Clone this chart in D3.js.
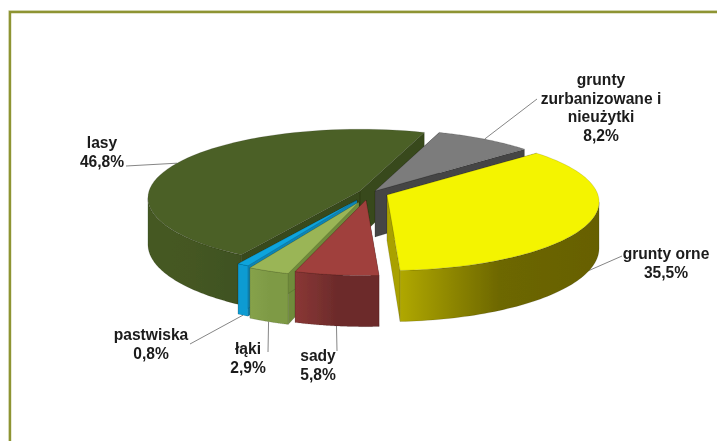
<!DOCTYPE html>
<html>
<head>
<meta charset="utf-8">
<script src="https://cdn.jsdelivr.net/npm/d3@7"></script>
<style>
html,body{margin:0;padding:0;background:#fff;overflow:hidden}
svg{display:block}
text{font-family:"Liberation Sans",Arial,sans-serif;font-weight:700;font-size:15.6px;fill:#1a1a1a}
</style>
</head>
<body>
<svg id="c" width="717" height="441"></svg>
<script>
// Data, in pie order (clockwise)
const categories = ["grunty orne","sady","łąki","pastwiska","lasy","grunty zurbanizowane i nieużytki"];
const shares = [35.5,5.8,2.9,0.8,46.8,8.2];
const valueLabels = ["35,5%","5,8%","2,9%","0,8%","46,8%","8,2%"];

// Style and layout, kept apart from the data
const topColors  = ["#f4f400","#a0403c","#9ab556","#10a4dc","#4c6128","#7b7b7b"];
const wallColors = ["#a9a100","#7f3330","#6f8b3b","#0b84b4","#37481a","#444444"];
const rimStops = [["#b0a800","#6d6700","#666000"],["#8a3735","#6c2b2b","#6c2b2b"],["#86a24b","#7e9a45","#7e9a45"],["#0e9bd2","#0e9bd2","#0e9bd2"],["#455922","#445721","#3f5120"],["#444","#444","#444"]];
const apexes = [[387,195],[366,200],[359,202],[357,200],[360,191],[375,191]];
const labelLines = [["grunty orne"],["sady"],["łąki"],["pastwiska"],["lasy"],["grunty","zurbanizowane i","nieużytki"]];
const labelAnchors = [[666,259],[318,361],[248,354],[151,340],[102,148],[601,85]];
const leaderElbows = [[622,256],[337,351],[268,352],[190,344],[126,166],[537,99]];
const drawOrder = [4,5,3,2,1,0];

const rx = 211, ry = 68, persp = 0.1, depth = 46, lineH = 18.7;
const startDeg = 49;

const svg = d3.select("#c");
const defs = svg.append("defs");
const blur = defs.append("filter").attr("id","soft").attr("x","-5%").attr("y","-5%").attr("width","110%").attr("height","110%");
blur.append("feGaussianBlur").attr("stdDeviation",0.45);

// frame
const frame = svg.append("g");
frame.append("path").attr("d","M10,441V12H717").attr("fill","none").attr("stroke","#8e9433").attr("stroke-width",2.4);
frame.append("path").attr("d","M8.5,441V10.5H717").attr("fill","none").attr("stroke","#8e9433").attr("stroke-opacity",.2).attr("stroke-width",1);

const pie = d3.pie().sort(null).value(d=>d)
  .startAngle(startDeg*Math.PI/180).endAngle(startDeg*Math.PI/180+2*Math.PI);
const arcs = pie(shares);

const sx = d3.scaleLinear().domain([-1,1]).range([-rx,rx]);
const sy = d3.scaleLinear().domain([-1,1]).range([-ry,ry]);
function project(apex,a,down){
  const ux = Math.sin(a), uy = -Math.cos(a);
  const k = 1/(1-persp*uy);
  return [apex[0]+sx(ux)*k, apex[1]+sy(uy)*k+(down?depth*k:0)];
}
function sweep(a0,a1){ return d3.range(0,61).map(i=>a0+(a1-a0)*i/60); }
const line = d3.line().curve(d3.curveLinear);
const chart = svg.append("g").attr("filter","url(#soft)");
const edge = {"stroke":"#000","stroke-opacity":.2,"stroke-width":.6,"stroke-linejoin":"round"};
function styled(sel){ Object.entries(edge).forEach(([k,v])=>sel.attr(k,v)); return sel; }

// the part of the circle whose rim faces the viewer (silhouette at cos a = -persp)
const frontFrom = Math.acos(-persp), frontTo = 2*Math.PI-frontFrom;

// leaders first, under the slices
const leaders = svg.insert("g","g:nth-of-type(2)");
arcs.forEach((d,i)=>{
  const mid=(d.startAngle+d.endAngle)/2, isFront=Math.cos(mid)<-0.2;
  const p=project(apexes[i],mid,isFront);
  leaders.append("path").attr("d",line([p,leaderElbows[i]])).attr("fill","none").attr("stroke","#868686").attr("stroke-width",1);
});

drawOrder.forEach(i=>{
  const d=arcs[i], ap=apexes[i], g=chart.append("g");
  const apBottom=[ap[0],ap[1]+depth];
  const aS=d.startAngle, aE=d.endAngle;
  // cut walls
  [aS,aE].forEach(a=>{
    styled(g.append("path")).attr("fill",wallColors[i])
      .attr("d",line([ap,project(ap,a,false),project(ap,a,true),apBottom])+"Z");
  });
  // rim, front-facing part only
  const r0=Math.max(aS,frontFrom), r1=Math.min(aE,frontTo);
  if(r1>r0){
    const as=sweep(r0,r1);
    const tops=as.map(a=>project(ap,a,false)), bots=as.map(a=>project(ap,a,true));
    const id="rim"+i, ext=d3.extent(tops,p=>p[0]);
    const grad=defs.append("linearGradient").attr("id",id).attr("gradientUnits","userSpaceOnUse")
      .attr("x1",ext[0]).attr("x2",ext[1]).attr("y1",0).attr("y2",0);
    rimStops[i].forEach((c,j)=>grad.append("stop").attr("offset",j/2).attr("stop-color",c));
    styled(g.append("path")).attr("fill",`url(#${id})`)
      .attr("d",line(tops.concat(bots.slice().reverse()))+"Z");
  }
  // top face
  const tops=sweep(aS,aE).map(a=>project(ap,a,false));
  styled(g.append("path")).attr("fill",topColors[i]).attr("d",line([ap].concat(tops))+"Z");
});

// labels
const labels = svg.append("g").attr("filter","url(#soft)");
arcs.forEach((d,i)=>{
  const rows=labelLines[i].concat([valueLabels[i]]);
  const t=labels.append("text").attr("text-anchor","middle").datum(categories[i]);
  rows.forEach((r,j)=>t.append("tspan").attr("x",labelAnchors[i][0]).attr("y",labelAnchors[i][1]+j*lineH).text(r));
});
</script>
</body>
</html>
